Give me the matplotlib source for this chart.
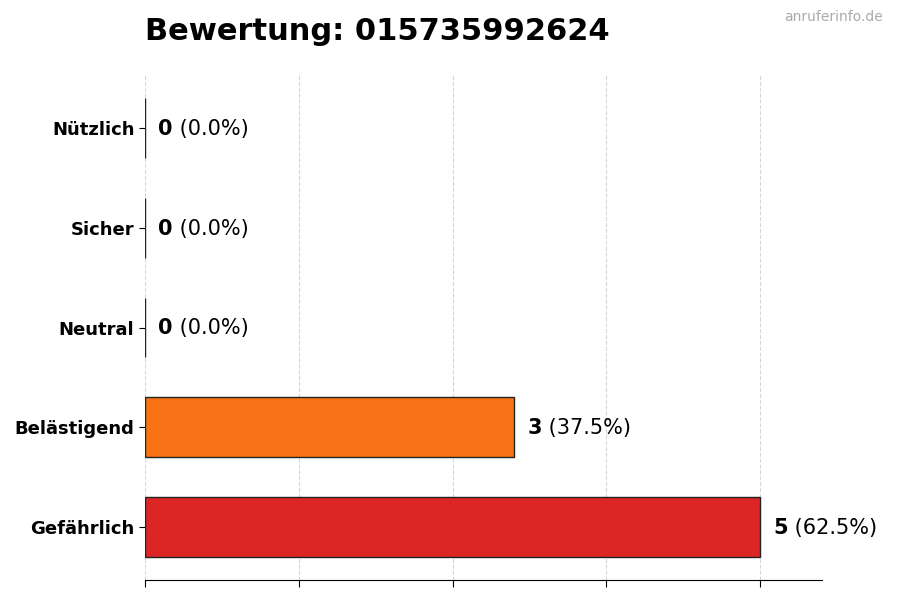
import matplotlib.pyplot as plt

# Daten (von unten nach oben)
kategorien = ["Gefährlich", "Belästigend", "Neutral", "Sicher", "Nützlich"]
anzahl = [5, 3, 0, 0, 0]
farben = ["#dc2626", "#f97316", "#9ca3af", "#22c55e", "#3b82f6"]
nummer = "015735992624"

gesamt = sum(anzahl)
prozent = [a / gesamt * 100 for a in anzahl]

fig = plt.figure(figsize=(9, 6), dpi=100)
ax = fig.add_axes([0.161, 0.0333, 0.752, 0.8417])

ax.barh(kategorien, anzahl, height=0.6, color=farben,
        edgecolor="#222222", linewidth=1, zorder=2)

ax.set_xlim(0, max(anzahl) * 1.1)
ax.set_xticks([0, 1.25, 2.5, 3.75, 5])
ax.set_xticklabels([])
ax.grid(axis="x", linestyle="--", color="#bbbbbb", linewidth=0.8, alpha=0.6, zorder=3)

for s in ["top", "right", "left"]:
    ax.spines[s].set_visible(False)

ax.tick_params(axis="y", length=4)
ax.tick_params(axis="x", length=5)
for lbl in ax.get_yticklabels():
    lbl.set_fontweight("bold")
    lbl.set_fontsize(13)

for i, (a, p) in enumerate(zip(anzahl, prozent)):
    t = ax.annotate(str(a), xy=(a, i), xytext=(9.5, -0.7), textcoords="offset points",
                    fontsize=15, fontweight="bold", va="center", ha="left")
    ax.annotate(f" ({p:.1f}%)", xy=(1, 0), xycoords=t, fontsize=15,
                va="bottom", ha="left")

fig.text(0.161, 0.933, f"Bewertung: {nummer}", fontsize=22, fontweight="bold",
         ha="left", va="baseline")
fig.text(0.981, 0.971, "anruferinfo.de", fontsize=10, color="#aaaaaa",
         ha="right", va="center")

fig.savefig("out.png", dpi=100)
